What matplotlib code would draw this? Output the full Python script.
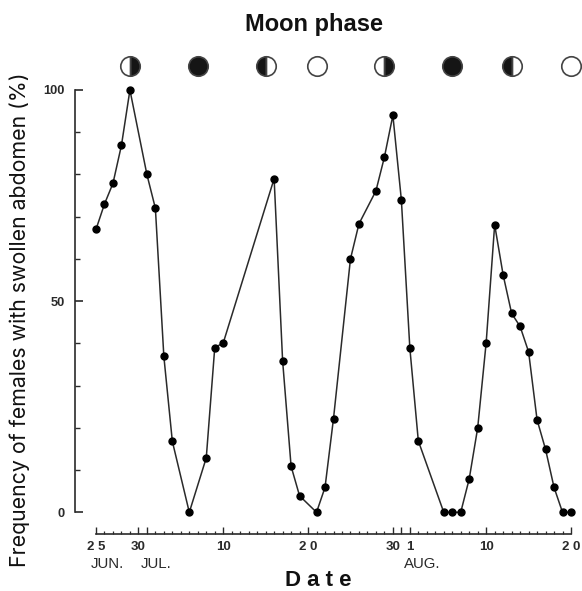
import matplotlib
matplotlib.use('Agg')
import matplotlib.pyplot as plt
from matplotlib.ticker import FixedLocator, FixedFormatter

# day 0 = 25 June, day 56 = 20 August
days = [0, 1, 2, 3, 4, 6, 7, 8, 9, 11, 13, 14, 15, 21, 22, 23, 24, 26, 27, 28,
        30, 31, 33, 34, 35, 36, 37, 38, 41, 42, 43, 44, 45, 46, 47, 48, 49, 50,
        51, 52, 53, 54, 55, 56]
freq = [67, 73, 77.9, 86.9, 100, 80, 72, 36.9, 16.8, 0, 12.9, 39, 40.1, 79,
        35.9, 10.9, 3.9, 0, 5.9, 22.2, 60, 68.3, 76.1, 84.1, 94, 74, 38.9, 16.9,
        0, 0, 0, 7.9, 20, 40.2, 68.1, 56.2, 47.1, 44, 38, 21.9, 14.9, 5.9, 0, 0]

date_ticks = [0, 5, 6, 15, 25, 35, 36, 37, 46, 56]
date_labels = ['2 5', '30', '', '10', '2 0', '30', '', '1', '10', '2 0']
month_names = ['JUN.', 'JUL.', 'AUG.']
month_days = [1.4, 7.1, 38.5]

moon_days = [4, 12, 20, 26, 34, 42, 49, 56]
moon_fill = ['right', 'full', 'left', 'none', 'right', 'full', 'left', 'none']

plt.rcParams['font.family'] = ['Liberation Sans', 'DejaVu Sans']
ink = '#2a2a2a'

fig = plt.figure(figsize=(5.82, 5.91), dpi=100)
ax = fig.add_axes([96 / 582, 1 - 512.3 / 591, 475 / 582, 422.3 / 591])
ax.set_xlim(0, 56)
ax.set_ylim(0, 100)

ax.plot(days, freq, '-o', color=ink, lw=1.1, ms=5, mfc='black', mec='black', clip_on=False)

# moon phase symbols sit above the top of the scale
for d, fill in zip(moon_days, moon_fill):
    ax.plot([d], [105.7], 'o', ms=14, fillstyle=fill, color='#151515', mfc='#151515',
            mfcalt='white', mec='#444444', mew=1.2, clip_on=False)

for s in ['top', 'right']:
    ax.spines[s].set_visible(False)
ax.spines['left'].set_position(('outward', 15))
ax.spines['bottom'].set_position(('outward', 15.5))
ax.spines['left'].set_linewidth(1.2)
ax.spines['bottom'].set_linewidth(1.2)
ax.spines['left'].set_color(ink)
ax.spines['bottom'].set_color(ink)

ax.yaxis.set_major_locator(FixedLocator([0, 50, 100]))
ax.yaxis.set_minor_locator(FixedLocator(list(range(0, 101, 10))))
ax.xaxis.set_major_locator(FixedLocator(date_ticks))
ax.xaxis.set_major_formatter(FixedFormatter(date_labels))
ax.xaxis.set_minor_locator(FixedLocator(list(range(0, 57))))
ax.tick_params(axis='y', which='major', direction='in', length=6, width=1.2, color=ink, pad=7.5, labelsize=9.3, labelcolor=ink)
ax.tick_params(axis='y', which='minor', direction='in', length=3.5, width=1.0, color=ink)
ax.tick_params(axis='x', which='major', direction='in', length=5, width=1.0, color=ink, pad=5.5, labelsize=9.5, labelcolor=ink)
ax.tick_params(axis='x', which='minor', direction='in', length=2, width=0.9, color=ink)
for t in ax.get_yticklabels() + ax.get_xticklabels():
    t.set_fontweight('bold')

for name, d in zip(month_names, month_days):
    ax.annotate(name, xy=(d, 0), xycoords=('data', 'axes fraction'), xytext=(0, -37),
                textcoords='offset points', ha='center', va='center', fontsize=10.8, color=ink)

fig.text(314 / 582, 1 - 24 / 591, 'Moon phase', ha='center', va='center', fontsize=17, fontweight='bold', color='#111111')
fig.text(20 / 582, 1 - 319.5 / 591, 'Frequency of females with swollen abdomen (%)', rotation='vertical',
         ha='center', va='center', fontsize=15.35, family=['Inter', 'DejaVu Sans'], color='#111111')
fig.text(318 / 582, 1 - 580 / 591, 'D a t e', ha='center', va='center', fontsize=16, fontweight='bold', color='#111111')

plt.savefig('out.png', dpi=100)
